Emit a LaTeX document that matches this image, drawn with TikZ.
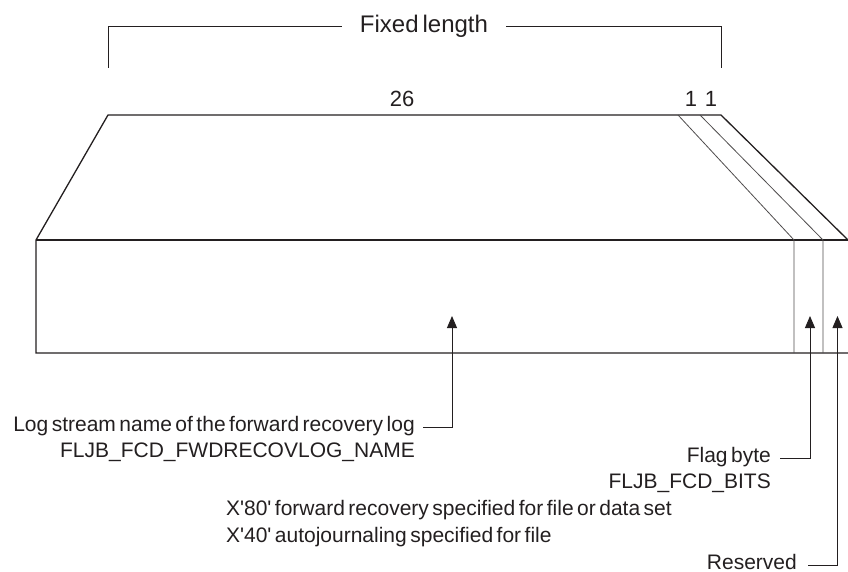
\documentclass[tikz,border=0pt]{standalone}
\usepackage{fontspec}
\setmainfont{Liberation Sans}[WordSpace=0.6]
\usetikzlibrary{arrows.meta}
\definecolor{ink}{HTML}{231F20}
\begin{document}
\begin{tikzpicture}[x=1pt,y=-1pt,
  outline/.style={draw=ink,line width=1.3pt,line join=miter},
  divider/.style={draw=ink!80,line width=0.8pt},
  conn/.style={draw=ink,line width=0.9pt},
  tip/.style={-{Triangle[width=10pt,length=12pt]}},
  lbl/.style={inner sep=0pt,text=ink,font=\fontsize{21}{25}\selectfont,text height=0.72em,text depth=0pt},
  toplbl/.style={inner sep=0pt,text=ink,font=\fontsize{24}{28}\selectfont},
  numlbl/.style={inner sep=0pt,text=ink,font=\fontsize{22}{26}\selectfont}]
\useasboundingbox (0,0) rectangle (848,572);
% bracket
\node[toplbl,anchor=base] (fixed) at (424,33) {Fixed length};
\coordinate (bl) at (108,68);
\coordinate (br) at (721,68);
\draw[conn,line width=0.8pt] (bl) |- ([xshift=-18pt]fixed.west);
\draw[conn,line width=0.8pt] (br) |- ([xshift=18pt]fixed.east);
% size labels
\node[numlbl,anchor=base] (n26) at (402,107) {26};
\node[numlbl,anchor=base] (n1a) at (691,107) {1};
\node[numlbl,anchor=base] (n1b) at (711,107) {1};
% box
\coordinate (tl) at (108,115);
\coordinate (tr) at (721,115);
\coordinate (ml) at (36,240);
\coordinate (mr) at (848,240);
\coordinate (bbl) at (36,353);
\coordinate (bbr) at (848,353);
\draw[outline] (mr) -- (tr) -- (tl) -- (ml) -- (bbl) -- (bbr);
\draw[outline] (ml) -- (mr);
% dividers
\coordinate (d1t) at (678,115);
\coordinate (d2t) at (700,115);
\coordinate (d1m) at (794,240);
\coordinate (d2m) at (823,240);
\coordinate (d1b) at (794,353);
\coordinate (d2b) at (823,353);
\draw[divider] (d1t) -- (d1m) -- (d1b);
\draw[divider] (d2t) -- (d2m) -- (d2b);
% labels
\node[lbl,anchor=base east] (log) at (415,431) {Log stream name of the forward recovery log};
\node[lbl,anchor=base east] (logname) at (415,457) {FLJB\_FCD\_FWDRECOVLOG\_NAME};
\node[lbl,anchor=base east] (flag) at (771,462) {Flag byte};
\node[lbl,anchor=base east] (bits) at (771,488) {FLJB\_FCD\_BITS};
\node[lbl,anchor=base east] (x80) at (672,515) {X\textquotesingle 80\textquotesingle\ forward recovery specified for file or data set};
\node[lbl,anchor=base west] (x40) at ([yshift=-27pt]x80.base west) {X\textquotesingle 40\textquotesingle\ autojournaling specified for file};
\node[lbl,anchor=base east] (res) at (797,569) {Reserved};
% arrows
\coordinate (tipA) at (452,316);
\coordinate (tipB) at (810,316);
\coordinate (tipC) at (837.5,316);
\draw[conn,tip] ([xshift=8pt]log.east) -| (tipA);
\draw[conn,tip] ([xshift=9pt]flag.east) -| (tipB);
\draw[conn,tip] ([xshift=11pt]res.east) -| (tipC);
\end{tikzpicture}
\end{document}
